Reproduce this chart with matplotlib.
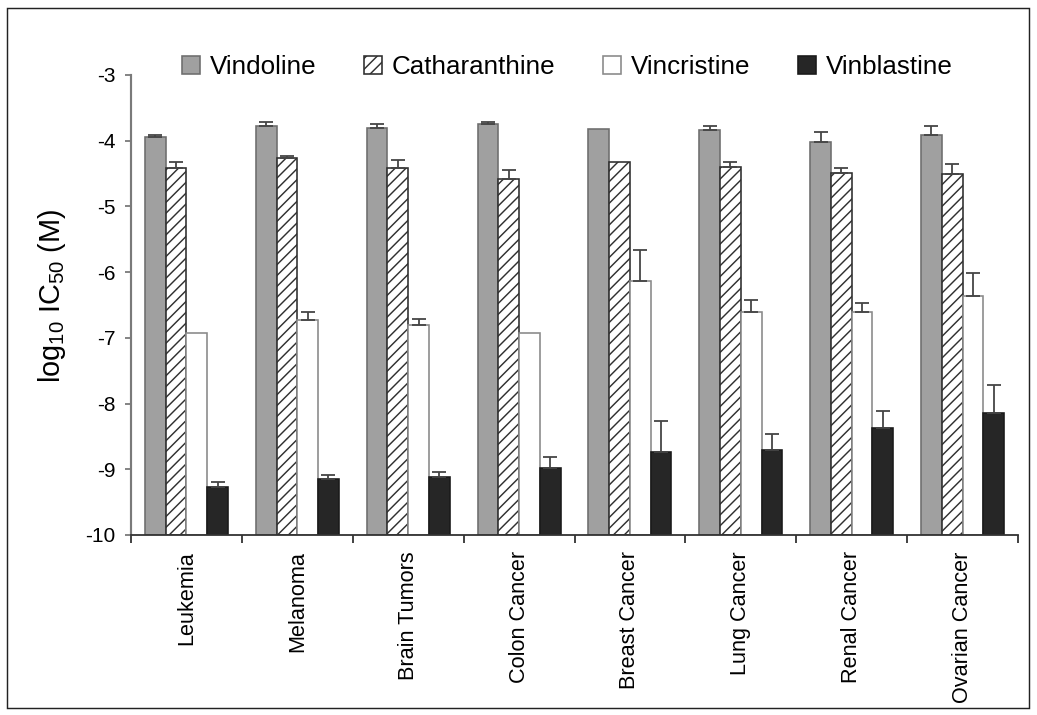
"""
IC50 of the Catharanthus alkaloids across cancer cell line panels.
"""
import matplotlib
matplotlib.use("Agg")
import matplotlib.pyplot as plt
import numpy as np
from matplotlib.patches import Patch, Rectangle

plt.rcParams["font.family"] = ["Liberation Sans", "DejaVu Sans"]
plt.rcParams["hatch.linewidth"] = 0.8
plt.rcParams["axes.unicode_minus"] = False

categories = ["Leukemia", "Melanoma", "Brain Tumors", "Colon Cancer",
              "Breast Cancer", "Lung Cancer", "Renal Cancer", "Ovarian Cancer"]
series = ["Vindoline", "Catharanthine", "Vincristine", "Vinblastine"]

# log10 IC50 (M)
vindoline = [-3.95, -3.77, -3.80, -3.74, -3.82, -3.84, -4.02, -3.91]
catharanthine = [-4.42, -4.26, -4.41, -4.59, -4.32, -4.40, -4.49, -4.50]
vincristine = [-6.92, -6.73, -6.81, -6.93, -6.13, -6.61, -6.61, -6.37]
vinblastine = [-9.27, -9.15, -9.12, -8.98, -8.74, -8.71, -8.37, -8.14]

# upper error bars (0 = none drawn)
vindoline_err = [0.03, 0.06, 0.06, 0.02, 0.0, 0.06, 0.15, 0.14]
catharanthine_err = [0.09, 0.02, 0.12, 0.14, 0.0, 0.08, 0.08, 0.15]
vincristine_err = [0.0, 0.12, 0.09, 0.0, 0.47, 0.19, 0.14, 0.35]
vinblastine_err = [0.08, 0.06, 0.08, 0.17, 0.47, 0.24, 0.26, 0.42]

values = [vindoline, catharanthine, vincristine, vinblastine]
errors = [vindoline_err, catharanthine_err, vincristine_err, vinblastine_err]

styles = [
    dict(facecolor="#a0a0a0", edgecolor="#6e6e6e", hatch=None),
    dict(facecolor="white", edgecolor="#303030", hatch="////"),
    dict(facecolor="white", edgecolor="#8a8a8a", hatch=None),
    dict(facecolor="#262626", edgecolor="#1a1a1a", hatch=None),
]

fig = plt.figure(figsize=(1037 / 130, 715 / 130), dpi=130)
ax = fig.add_axes([131 / 1037, 1 - 535 / 715, 887 / 1037, 460 / 715])

x = np.arange(len(categories))
width = 0.187
base = -10

for i, name in enumerate(series):
    pos = x + (i - 1.5) * width
    vals = np.array(values[i])
    ax.bar(pos, vals - base, bottom=base, width=width, linewidth=0.9,
           label=name, zorder=2, **styles[i])
    err = np.array(errors[i])
    keep = err > 0
    ax.errorbar(pos[keep], vals[keep], yerr=[np.zeros(keep.sum()), err[keep]],
                fmt="none", ecolor="#454545", elinewidth=1.0, capsize=3.8,
                capthick=1.0, zorder=3)

ax.set_xlim(-0.5, len(categories) - 0.5)
ax.set_ylim(-10, -3)
ax.set_yticks(np.arange(-10, -2, 1))
ax.set_xticks(x)
ax.set_xticklabels(categories, rotation=90, fontsize=12)
ax.set_xticks(np.arange(-0.5, len(categories), 1), minor=True)
ax.tick_params(axis="x", which="major", length=0, pad=9)
ax.tick_params(axis="x", which="minor", length=4.5, width=1.0, color="#333333")
ax.tick_params(axis="y", length=3.5, width=1.0, color="#7a7a7a", labelsize=11.6, pad=5)

ax.spines["top"].set_visible(False)
ax.spines["right"].set_visible(False)
ax.spines["left"].set_color("#7a7a7a")
ax.spines["left"].set_linewidth(1.2)
ax.spines["bottom"].set_color("#333333")
ax.spines["bottom"].set_linewidth(1.0)

ax.set_ylabel(r"log$_\mathregular{10}$ IC$_\mathregular{50}$ (M)", fontsize=16)
ax.yaxis.set_label_coords(-0.071, 0.52)

handles = [Patch(linewidth=0.9, **s) for s in styles]
fig.legend(handles, series, loc="center", bbox_to_anchor=(0.547, 0.906), ncol=4,
           frameon=False, fontsize=14.4, handlelength=0.7, handleheight=0.7,
           handletextpad=0.35, columnspacing=1.85)

# thin frame round the whole picture
fig.patches.append(Rectangle((7 / 1037, 7 / 715), 1022 / 1037, 700 / 715,
                             transform=fig.transFigure, fill=False,
                             edgecolor="#222222", linewidth=0.8))

fig.savefig("out.png", dpi=130)
